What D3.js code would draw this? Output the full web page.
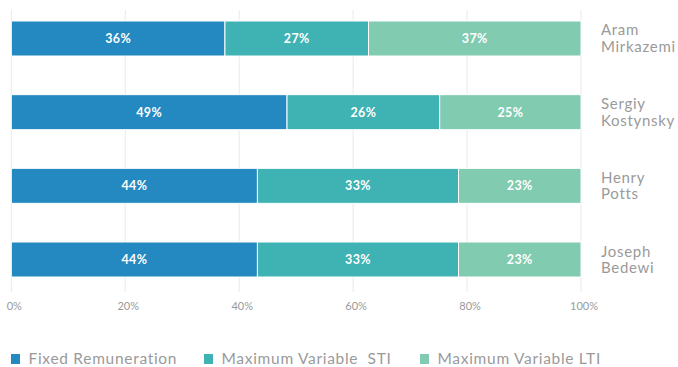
<!DOCTYPE html>
<html>
<head>
<meta charset="utf-8">
<script src="https://cdn.jsdelivr.net/npm/d3@7"></script>
<style>
  html, body { margin: 0; padding: 0; background: #fff; }
  svg { display: block; font-family: Lato, "Open Sans", sans-serif; }
</style>
</head>
<body>
<svg id="chart" width="678" height="367"></svg>
<script>
(function() {
  // people, top to bottom (two-line names)
  const people = [
    ['Aram', 'Mirkazemi'],
    ['Sergiy', 'Kostynsky'],
    ['Henry', 'Potts'],
    ['Joseph', 'Bedewi'],
  ];
  const seriesNames = ['Fixed Remuneration', 'Maximum Variable  STI', 'Maximum Variable LTI'];
  const seriesColors = ['#2389c0', '#3fb2b3', '#81cbb0'];

  // segment lengths as drawn (share of 100%)
  const fixedShare = [37.5, 48.4, 43.2, 43.2];
  const stiShare = [25.2, 26.8, 35.3, 35.3];
  const ltiShare = [37.3, 24.8, 21.5, 21.5];

  // printed labels
  const fixedLabel = ['36%', '49%', '44%', '44%'];
  const stiLabel = ['27%', '26%', '33%', '33%'];
  const ltiLabel = ['37%', '25%', '23%', '23%'];

  const ticks = [0, 20, 40, 60, 80, 100];

  const svg = d3.select('#chart');
  const x = d3.scaleLinear().domain([0, 100]).range([11.3, 581]);
  const y = d3.scaleBand().domain(d3.range(people.length)).range([21, 277]).paddingInner(0.525).paddingOuter(0);

  // grid
  svg.append('g')
    .selectAll('line')
    .data(ticks)
    .join('line')
    .attr('x1', d => x(d)).attr('x2', d => x(d))
    .attr('y1', 10).attr('y2', 292)
    .attr('stroke', '#e9e9e9')
    .attr('stroke-width', 1);

  svg.append('g')
    .selectAll('text')
    .data(ticks)
    .join('text')
    .attr('x', d => x(d) + 3)
    .attr('y', 310)
    .attr('text-anchor', 'middle')
    .attr('fill', '#9a9a9a')
    .attr('font-size', 11)
    .text(d => d + '%');

  const rows = people.map((p, i) => {
    const vals = [fixedShare[i], stiShare[i], ltiShare[i]];
    const labs = [fixedLabel[i], stiLabel[i], ltiLabel[i]];
    let acc = 0;
    return vals.map((v, k) => {
      const seg = {row: i, k: k, x0: acc, x1: acc + v, label: labs[k]};
      acc += v;
      return seg;
    });
  }).flat();

  const segs = svg.append('g')
    .selectAll('g')
    .data(rows)
    .join('g');

  segs.append('rect')
    .attr('x', d => x(d.x0))
    .attr('y', d => y(d.row))
    .attr('width', d => x(d.x1) - x(d.x0))
    .attr('height', y.bandwidth())
    .attr('fill', d => seriesColors[d.k])
    .attr('stroke', '#fff')
    .attr('stroke-width', 1);

  segs.append('text')
    .attr('x', d => (x(d.x0) + x(d.x1)) / 2)
    .attr('y', d => y(d.row) + y.bandwidth() / 2 + 4.5)
    .attr('text-anchor', 'middle')
    .attr('fill', '#fff')
    .attr('font-size', 12.5)
    .attr('font-weight', 'bold')
    .attr('letter-spacing', 0.4)
    .text(d => d.label);

  // names on the right
  svg.append('g')
    .selectAll('text')
    .data(people)
    .join('text')
    .attr('x', 601)
    .attr('y', (d, i) => y(i) + y.bandwidth() / 2 - 3)
    .attr('fill', '#9a9a9a')
    .attr('font-size', 15)
    .attr('letter-spacing', 0.7)
    .selectAll('tspan')
    .data(d => d)
    .join('tspan')
    .attr('x', 601)
    .attr('dy', (d, j) => j === 0 ? 0 : 16.5)
    .text(d => d);

  // legend
  const legendX = [11, 204, 420];
  const legend = svg.append('g')
    .selectAll('g')
    .data(seriesNames)
    .join('g')
    .attr('transform', (d, i) => `translate(${legendX[i]},354)`);

  legend.append('rect')
    .attr('width', 9).attr('height', 10)
    .attr('fill', (d, i) => seriesColors[i]);

  legend.append('text')
    .attr('x', 17.5)
    .attr('y', 9.8)
    .attr('fill', '#9a9a9a')
    .attr('font-size', 15.5)
    .attr('letter-spacing', 0.7)
    .style('white-space', 'pre')
    .text(d => d);
})();
</script>
</body>
</html>
